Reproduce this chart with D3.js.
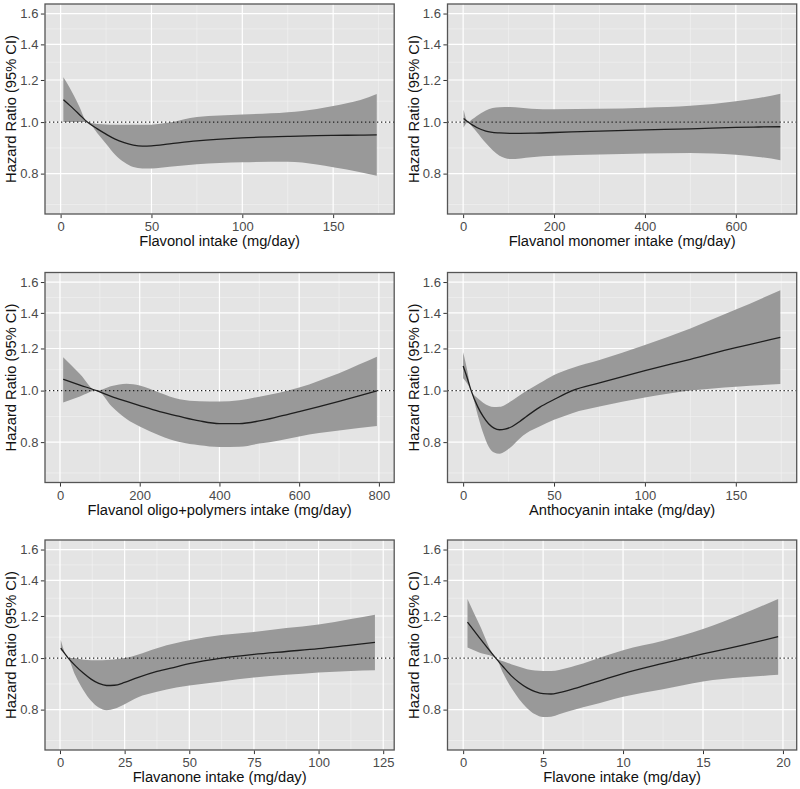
<!DOCTYPE html>
<html>
<head>
<meta charset="utf-8">
<script src="https://cdn.jsdelivr.net/npm/d3@7"></script>
<style>
  html, body { margin: 0; padding: 0; background: #ffffff; }
  svg { display: block; font-family: "Liberation Sans", Arial, sans-serif; }
</style>
</head>
<body>
<svg id="chart" width="800" height="789"></svg>
<script>
// ---------------- data ----------------
const yBreaks = [0.8, 1.0, 1.2, 1.4, 1.6];
const yMinorBreaks = [0.70, 0.894, 1.095, 1.296, 1.497];
const yLimits = [0.7, 1.6];
const yTitle = "Hazard Ratio (95% CI)";

// Panel 1: Flavonol
const flavonolX  = [1.5, 5, 10, 14.7, 20, 25, 30, 35, 40, 45, 50, 60, 75, 100, 125, 141, 150, 165, 174];
const flavonolHR = [1.102, 1.075, 1.036, 1.0, 0.972, 0.949, 0.929, 0.915, 0.905, 0.901, 0.902, 0.91, 0.922, 0.934, 0.94, 0.943, 0.944, 0.945, 0.946];
const flavonolLo = [1.0, 1.0, 1.0, 1.0, 0.955, 0.91, 0.868, 0.84, 0.823, 0.818, 0.818, 0.824, 0.833, 0.84, 0.842, 0.832, 0.822, 0.805, 0.793];
const flavonolHi = [1.214, 1.16, 1.075, 1.0, 0.992, 0.99, 0.989, 0.988, 0.988, 0.988, 0.989, 0.998, 1.022, 1.033, 1.043, 1.058, 1.072, 1.1, 1.129];
const flavonolTicks = [0, 50, 100, 150];
const flavonolDomain = [-8.6, 183.6];

// Panel 2: Flavanol monomer
const monomerX  = [1, 11, 20, 30, 50, 80, 103, 150, 200, 300, 400, 500, 600, 650, 698];
const monomerHR = [1.016, 1.0, 0.988, 0.977, 0.962, 0.954, 0.952, 0.953, 0.956, 0.962, 0.967, 0.971, 0.977, 0.979, 0.98];
const monomerLo = [0.977, 1.0, 0.98, 0.958, 0.913, 0.864, 0.852, 0.859, 0.864, 0.869, 0.873, 0.875, 0.868, 0.86, 0.848];
const monomerHi = [1.055, 1.0, 1.012, 1.027, 1.052, 1.066, 1.067, 1.06, 1.057, 1.059, 1.064, 1.073, 1.095, 1.11, 1.131];
const monomerTicks = [0, 200, 400, 600];
const monomerDomain = [-34.4, 733.9];

// Panel 3: Flavanol oligo+polymers
const oligoX  = [8, 50, 92, 130, 167, 200, 250, 300, 350, 400, 450, 500, 550, 600, 650, 700, 750, 795];
const oligoHR = [1.05, 1.024, 1.0, 0.974, 0.954, 0.937, 0.913, 0.894, 0.877, 0.867, 0.867, 0.877, 0.894, 0.913, 0.933, 0.954, 0.977, 0.999];
const oligoLo = [0.95, 0.975, 1.0, 0.933, 0.884, 0.856, 0.823, 0.80, 0.789, 0.783, 0.784, 0.795, 0.806, 0.82, 0.832, 0.841, 0.85, 0.858];
const oligoHi = [1.155, 1.075, 1.0, 1.02, 1.03, 1.022, 0.991, 0.963, 0.955, 0.954, 0.959, 0.974, 0.991, 1.013, 1.044, 1.078, 1.119, 1.158];
const oligoTicks = [0, 200, 400, 600, 800];
const oligoDomain = [-37.6, 838.4];

// Panel 4: Anthocyanin
const anthoX  = [0, 2.3, 4.4, 8, 11, 14, 17, 20, 23, 27, 31, 35, 42, 50, 60, 75, 100, 125, 150, 174.5];
const anthoHR = [1.112, 1.055, 1.0, 0.933, 0.894, 0.866, 0.85, 0.844, 0.846, 0.856, 0.874, 0.895, 0.93, 0.962, 1.0, 1.034, 1.09, 1.145, 1.204, 1.259];
const anthoLo = [1.055, 1.03, 1.0, 0.9, 0.832, 0.785, 0.765, 0.761, 0.768, 0.787, 0.812, 0.832, 0.856, 0.881, 0.907, 0.933, 0.97, 1.0, 1.017, 1.029];
const anthoHi = [1.18, 1.09, 1.0, 0.967, 0.949, 0.936, 0.931, 0.932, 0.94, 0.958, 0.979, 0.999, 1.032, 1.07, 1.103, 1.142, 1.218, 1.309, 1.42, 1.544];
const anthoTicks = [0, 50, 100, 150];
const anthoDomain = [-8.6, 183.5];

// Panel 5: Flavanone
const flavanoneX  = [0.3, 3.2, 6, 9, 12, 15, 18, 21, 25, 30, 37.5, 45, 50, 62.5, 75, 87.5, 100, 112.5, 121.8];
const flavanoneHR = [1.044, 1.0, 0.967, 0.937, 0.913, 0.896, 0.888, 0.889, 0.9, 0.919, 0.944, 0.963, 0.976, 1.0, 1.016, 1.029, 1.042, 1.058, 1.07];
const flavanoneLo = [1.035, 1.0, 0.926, 0.871, 0.831, 0.807, 0.798, 0.803, 0.819, 0.843, 0.864, 0.88, 0.888, 0.904, 0.919, 0.93, 0.94, 0.946, 0.949];
const flavanoneHi = [1.081, 1.0, 0.999, 0.993, 0.991, 0.991, 0.992, 0.994, 1.0, 1.015, 1.044, 1.067, 1.08, 1.105, 1.12, 1.139, 1.157, 1.185, 1.207];
const flavanoneTicks = [0, 25, 50, 75, 100, 125];
const flavanoneDomain = [-5.8, 129.25];

// Panel 6: Flavone
const flavoneX  = [0.27, 1, 2.04, 2.5, 3, 3.5, 4, 4.5, 5, 5.5, 6, 7, 8, 10, 12.5, 15, 17.5, 19.7];
const flavoneHR = [1.168, 1.094, 1.0, 0.963, 0.927, 0.9, 0.879, 0.865, 0.857, 0.856, 0.861, 0.877, 0.896, 0.935, 0.977, 1.018, 1.058, 1.097];
const flavoneLo = [1.047, 1.025, 1.0, 0.936, 0.88, 0.837, 0.805, 0.784, 0.775, 0.776, 0.784, 0.8, 0.815, 0.846, 0.874, 0.904, 0.92, 0.93];
const flavoneHi = [1.292, 1.159, 1.0, 0.986, 0.974, 0.963, 0.953, 0.948, 0.946, 0.946, 0.95, 0.967, 0.989, 1.035, 1.078, 1.134, 1.211, 1.292];
const flavoneTicks = [0, 5, 10, 15, 20];
const flavoneDomain = [-0.98, 20.86];

const panels = [
  { title: "Flavonol intake (mg/day)", x: flavonolX, hr: flavonolHR, lo: flavonolLo, hi: flavonolHi, ticks: flavonolTicks, domain: flavonolDomain },
  { title: "Flavanol monomer intake (mg/day)", x: monomerX, hr: monomerHR, lo: monomerLo, hi: monomerHi, ticks: monomerTicks, domain: monomerDomain },
  { title: "Flavanol oligo+polymers intake (mg/day)", x: oligoX, hr: oligoHR, lo: oligoLo, hi: oligoHi, ticks: oligoTicks, domain: oligoDomain },
  { title: "Anthocyanin intake (mg/day)", x: anthoX, hr: anthoHR, lo: anthoLo, hi: anthoHi, ticks: anthoTicks, domain: anthoDomain },
  { title: "Flavanone intake (mg/day)", x: flavanoneX, hr: flavanoneHR, lo: flavanoneLo, hi: flavanoneHi, ticks: flavanoneTicks, domain: flavanoneDomain },
  { title: "Flavone intake (mg/day)", x: flavoneX, hr: flavoneHR, lo: flavoneLo, hi: flavoneHi, ticks: flavoneTicks, domain: flavoneDomain }
];

// ---------------- layout ----------------
const colX = [45, 447.5];
const rowY = [4, 272.5, 540];
const PW = 349.2, PH = 210;

const svg = d3.select("#chart");

// y domain: limits expanded by 5% in log space
const ly0 = Math.log10(yLimits[0]), ly1 = Math.log10(yLimits[1]);
const yr = ly1 - ly0;
const yDomain = [Math.pow(10, ly0 - 0.05 * yr), Math.pow(10, ly1 + 0.05 * yr)];

panels.forEach((p, i) => {
  const left = colX[i % 2], top = rowY[Math.floor(i / 2)];
  const g = svg.append("g").attr("transform", `translate(${left},${top})`);

  const x = d3.scaleLinear().domain(p.domain).range([0, PW]);
  const y = d3.scaleLog().domain(yDomain).range([PH, 0]);

  // background
  g.append("rect").attr("width", PW).attr("height", PH).attr("fill", "#e4e4e4");

  // minor x grid
  const step = p.ticks[1] - p.ticks[0];
  const xMinor = [];
  for (let k = 0; k <= p.ticks.length; k++) {
    const v = p.ticks[0] - step / 2 + k * step;
    if (v > p.domain[0] && v < p.domain[1]) xMinor.push(v);
  }
  g.selectAll(".xminor").data(xMinor).enter().append("line")
    .attr("x1", d => x(d)).attr("x2", d => x(d)).attr("y1", 0).attr("y2", PH)
    .attr("stroke", "#f4f4f4").attr("stroke-width", 0.6);
  g.selectAll(".yminor").data(yMinorBreaks).enter().append("line")
    .attr("x1", 0).attr("x2", PW).attr("y1", d => y(d)).attr("y2", d => y(d))
    .attr("stroke", "#f4f4f4").attr("stroke-width", 0.6);
  // major grid
  g.selectAll(".xmajor").data(p.ticks).enter().append("line")
    .attr("x1", d => x(d)).attr("x2", d => x(d)).attr("y1", 0).attr("y2", PH)
    .attr("stroke", "#ffffff").attr("stroke-width", 1.2);
  g.selectAll(".ymajor").data(yBreaks).enter().append("line")
    .attr("x1", 0).attr("x2", PW).attr("y1", d => y(d)).attr("y2", d => y(d))
    .attr("stroke", "#ffffff").attr("stroke-width", 1.2);

  const pts = p.x.map((xv, j) => ({ x: xv, hr: p.hr[j], lo: p.lo[j], hi: p.hi[j] }));

  // ribbon
  const area = d3.area().curve(d3.curveMonotoneX)
    .x(d => x(d.x)).y0(d => y(d.lo)).y1(d => y(d.hi));
  g.append("path").datum(pts).attr("d", area).attr("fill", "#999999");

  // reference line
  g.append("line").attr("x1", 0).attr("x2", PW).attr("y1", y(1)).attr("y2", y(1))
    .attr("stroke", "#222").attr("stroke-width", 1.2).attr("stroke-dasharray", "1.3,2.7");

  // HR line
  const line = d3.line().curve(d3.curveMonotoneX).x(d => x(d.x)).y(d => y(d.hr));
  g.append("path").datum(pts).attr("d", line).attr("fill", "none")
    .attr("stroke", "#1e1e1e").attr("stroke-width", 1.3);

  // border
  g.append("rect").attr("x", 0).attr("y", 0).attr("width", PW).attr("height", PH)
    .attr("fill", "none").attr("stroke", "#555").attr("stroke-width", 1.3);

  // x axis
  const xAxis = d3.axisBottom(x).tickValues(p.ticks).tickSize(3.5).tickPadding(4).tickFormat(d3.format("d"));
  const gx = g.append("g").attr("transform", `translate(0,${PH + 0.6})`).call(xAxis);
  gx.select(".domain").remove();
  gx.selectAll(".tick line").attr("stroke", "#333").attr("stroke-width", 1);
  gx.selectAll(".tick text").attr("font-size", "13px").attr("fill", "#4a4a4a")
    .attr("font-family", "Liberation Sans, Arial, sans-serif");

  // y axis
  const yAxis = d3.axisLeft(y).tickValues(yBreaks).tickSize(3.5).tickPadding(2.5).tickFormat(d3.format(".1f"));
  const gy = g.append("g").attr("transform", "translate(-0.6,0)").call(yAxis);
  gy.select(".domain").remove();
  gy.selectAll(".tick line").attr("stroke", "#333").attr("stroke-width", 1);
  gy.selectAll(".tick text").attr("font-size", "13px").attr("fill", "#4a4a4a")
    .attr("font-family", "Liberation Sans, Arial, sans-serif");

  // titles
  g.append("text").attr("x", PW / 2).attr("y", PH + 32.3).attr("text-anchor", "middle")
    .attr("font-size", "14.7px").attr("fill", "#111").text(p.title);
  g.append("text").attr("transform", `translate(-29,${PH / 2}) rotate(-90)`)
    .attr("text-anchor", "middle").attr("font-size", "14.7px").attr("fill", "#111").text(yTitle);
});
</script>
</body>
</html>
